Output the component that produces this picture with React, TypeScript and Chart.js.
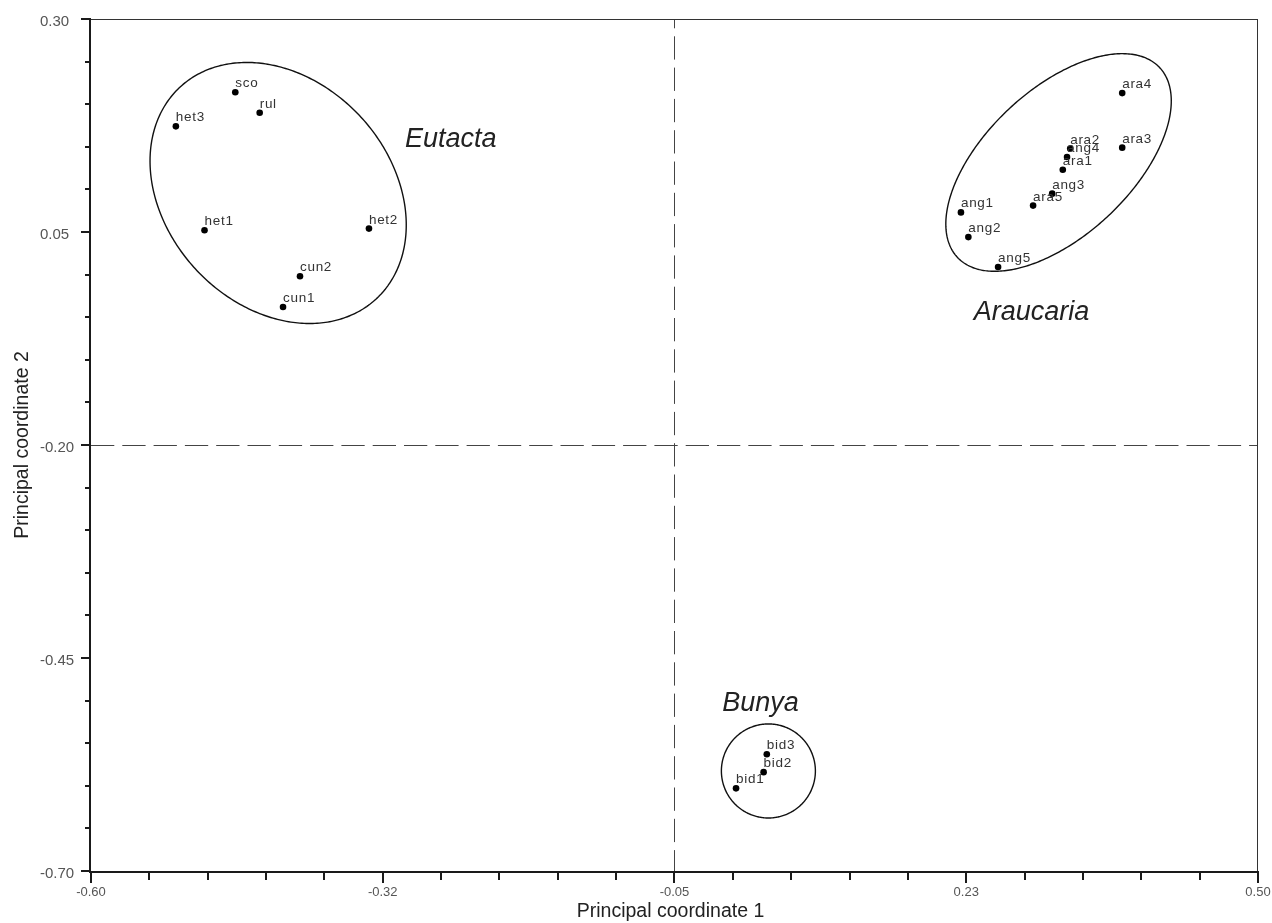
import React, { useEffect, useRef } from 'react';
import { Chart, registerables } from 'chart.js';
Chart.register(...registerables);

// ---- data ----
const eutactaNames = ['sco', 'rul', 'het3', 'het1', 'het2', 'cun2', 'cun1'];
const eutactaX = [-0.464, -0.441, -0.52, -0.493, -0.338, -0.403, -0.419];
const eutactaY = [0.214, 0.19, 0.174, 0.052, 0.054, -0.002, -0.038];

const araucariaNames = ['ara4', 'ara3', 'ara2', 'ang4', 'ara1', 'ang3', 'ara5', 'ang1', 'ang2', 'ang5'];
const araucariaX = [0.372, 0.372, 0.323, 0.32, 0.316, 0.306, 0.288, 0.22, 0.227, 0.255];
const araucariaY = [0.213, 0.149, 0.148, 0.138, 0.123, 0.095, 0.081, 0.073, 0.044, 0.009];

const bunyaNames = ['bid3', 'bid2', 'bid1'];
const bunyaX = [0.037, 0.034, 0.008];
const bunyaY = [-0.563, -0.584, -0.603];

const groupNames = ['Eutacta', 'Araucaria', 'Bunya'];
const groupLabelX = [-0.304, 0.232, -0.005];
const groupLabelY = [0.15, -0.053, -0.512];

// group ellipses: centre and two conjugate semi-axis vectors, in data units
const ellipseCx = [-0.4236, 0.312, 0.0385];
const ellipseCy = [0.0958, 0.1316, -0.5826];
const ellipseUx = [0.0921, 0.0952, 0.0443];
const ellipseUy = [-0.1247, 0.1115, 0];
const ellipseVx = [-0.0781, 0.0472, 0];
const ellipseVy = [-0.089, -0.0623, -0.0552];

const xTickValues = [-0.6, -0.325, -0.05, 0.225, 0.5];
const xTickLabels = ['-0.60', '-0.32', '-0.05', '0.23', '0.50'];
const yTickValues = [0.3, 0.05, -0.2, -0.45, -0.7];
const yTickLabels = ['0.30', '0.05', '-0.20', '-0.45', '-0.70'];
const minorPerMajor = 5;
const refLineX = -0.05;
const refLineY = -0.2;
const xTitle = 'Principal coordinate 1';
const yTitle = 'Principal coordinate 2';

const FONT = '"Liberation Sans", Arial, Helvetica, sans-serif';

const zip = (xs: number[], ys: number[]) => xs.map((x, i) => ({ x, y: ys[i] }));

const overlayPlugin = {
  id: 'pcoOverlay',
  beforeDatasetsDraw(chart: any) {
    const { ctx, chartArea: a, scales } = chart;
    const xs = scales.x;
    const ys = scales.y;
    ctx.save();
    // dashed reference lines
    ctx.strokeStyle = '#444';
    ctx.lineWidth = 1;
    ctx.setLineDash([23.3, 8]);
    const vx = Math.round(xs.getPixelForValue(refLineX)) + 0.5;
    ctx.lineDashOffset = 14;
    ctx.beginPath();
    ctx.moveTo(vx, a.top);
    ctx.lineTo(vx, a.bottom);
    ctx.stroke();
    const hy = Math.round(ys.getPixelForValue(refLineY)) + 0.5;
    ctx.lineDashOffset = 0;
    ctx.beginPath();
    ctx.moveTo(a.left, hy);
    ctx.lineTo(a.right, hy);
    ctx.stroke();
    ctx.setLineDash([]);
    // ellipses
    ctx.strokeStyle = '#111';
    ctx.lineWidth = 1.4;
    for (let e = 0; e < ellipseCx.length; e++) {
      ctx.beginPath();
      for (let k = 0; k <= 360; k++) {
        const t = (k * Math.PI) / 180;
        const dx = ellipseCx[e] + ellipseUx[e] * Math.cos(t) + ellipseVx[e] * Math.sin(t);
        const dy = ellipseCy[e] + ellipseUy[e] * Math.cos(t) + ellipseVy[e] * Math.sin(t);
        const px = xs.getPixelForValue(dx);
        const py = ys.getPixelForValue(dy);
        if (k === 0) ctx.moveTo(px, py);
        else ctx.lineTo(px, py);
      }
      ctx.closePath();
      ctx.stroke();
    }
    ctx.restore();
  },
  afterDatasetsDraw(chart: any) {
    const { ctx, scales } = chart;
    ctx.save();
    // point labels
    ctx.font = `13.5px ${FONT}`;
    (ctx as any).letterSpacing = '0.7px';
    ctx.fillStyle = '#333';
    ctx.textAlign = 'left';
    ctx.textBaseline = 'alphabetic';
    chart.data.datasets.forEach((ds: any, i: number) => {
      const meta = chart.getDatasetMeta(i);
      meta.data.forEach((el: any, j: number) => {
        ctx.fillText(ds.names[j], el.x, el.y - 5);
      });
    });
    (ctx as any).letterSpacing = '0px';
    // group names
    ctx.font = `italic 27px ${FONT}`;
    ctx.fillStyle = '#222';
    groupNames.forEach((g, i) => {
      ctx.fillText(g, scales.x.getPixelForValue(groupLabelX[i]), scales.y.getPixelForValue(groupLabelY[i]));
    });
    ctx.restore();
  },
  afterDraw(chart: any) {
    const { ctx, chartArea: a, scales } = chart;
    const xs = scales.x;
    const ys = scales.y;
    ctx.save();
    // frame
    ctx.fillStyle = '#333';
    ctx.fillRect(a.left, a.top, a.right - a.left, 1);
    ctx.fillRect(a.right - 1, a.top, 1, a.bottom - a.top);
    ctx.fillStyle = '#1a1a1a';
    ctx.fillRect(a.left - 2, a.top, 2, a.bottom - a.top + 2);
    ctx.fillRect(a.left - 2, a.bottom, a.right - a.left + 2, 2);
    // y ticks
    for (let i = 0; i < yTickValues.length; i++) {
      const py = Math.round(ys.getPixelForValue(yTickValues[i]));
      ctx.fillRect(a.left - 10, py - 1, 10, 2);
      if (i < yTickValues.length - 1) {
        for (let m = 1; m < minorPerMajor; m++) {
          const v = yTickValues[i] + ((yTickValues[i + 1] - yTickValues[i]) * m) / minorPerMajor;
          const my = Math.round(ys.getPixelForValue(v));
          ctx.fillRect(a.left - 6, my - 1, 6, 2);
        }
      }
    }
    // x ticks
    for (let i = 0; i < xTickValues.length; i++) {
      const px = Math.round(xs.getPixelForValue(xTickValues[i]));
      ctx.fillRect(px - 1, a.bottom, 2, 12);
      if (i < xTickValues.length - 1) {
        for (let m = 1; m < minorPerMajor; m++) {
          const v = xTickValues[i] + ((xTickValues[i + 1] - xTickValues[i]) * m) / minorPerMajor;
          const mx = Math.round(xs.getPixelForValue(v));
          ctx.fillRect(mx - 1, a.bottom, 2, 9);
        }
      }
    }
    // tick labels
    ctx.fillStyle = '#555';
    ctx.font = `15px ${FONT}`;
    ctx.textAlign = 'left';
    ctx.textBaseline = 'alphabetic';
    yTickValues.forEach((v, i) => {
      ctx.fillText(yTickLabels[i], a.left - 51, ys.getPixelForValue(v) + 7);
    });
    ctx.font = `13px ${FONT}`;
    ctx.textAlign = 'center';
    xTickValues.forEach((v, i) => {
      ctx.fillText(xTickLabels[i], xs.getPixelForValue(v), a.bottom + 25);
    });
    // axis titles
    ctx.fillStyle = '#222';
    ctx.font = `19.5px ${FONT}`;
    ctx.fillText(xTitle, (a.left + a.right) / 2 - 4, a.bottom + 46);
    ctx.save();
    ctx.translate(28, (a.top + a.bottom) / 2);
    ctx.rotate(-Math.PI / 2);
    ctx.fillText(yTitle, 0, 0);
    ctx.restore();
    ctx.restore();
  },
};

export default function App() {
  const ref = useRef<HTMLCanvasElement>(null);
  useEffect(() => {
    if (!ref.current) return;
    const mk = (label: string, names: string[], xs: number[], ys: number[]) => ({
      label,
      names,
      data: zip(xs, ys),
      pointRadius: 3.3,
      pointBackgroundColor: '#000',
      pointBorderWidth: 0,
      pointHoverRadius: 3.3,
      showLine: false,
    });
    const chart = new Chart(ref.current, {
      type: 'scatter',
      data: {
        datasets: [
          mk('Eutacta', eutactaNames, eutactaX, eutactaY),
          mk('Araucaria', araucariaNames, araucariaX, araucariaY),
          mk('Bunya', bunyaNames, bunyaX, bunyaY),
        ] as any,
      },
      options: {
        responsive: false,
        animation: false,
        devicePixelRatio: 1,
        layout: { padding: { left: 91, right: 14, top: 19, bottom: 52 } },
        plugins: { legend: { display: false }, tooltip: { enabled: false } },
        events: [],
        scales: {
          x: { type: 'linear', min: -0.6, max: 0.5, display: false },
          y: { type: 'linear', min: -0.7, max: 0.3, display: false },
        },
      },
      plugins: [overlayPlugin],
    });
    return () => chart.destroy();
  }, []);
  return (
    <div style={{ position: 'absolute', left: 0, top: 0, width: 1272, height: 923, background: '#fff' }}>
      <canvas ref={ref} width={1272} height={923} style={{ display: 'block', width: 1272, height: 923 }} />
    </div>
  );
}
